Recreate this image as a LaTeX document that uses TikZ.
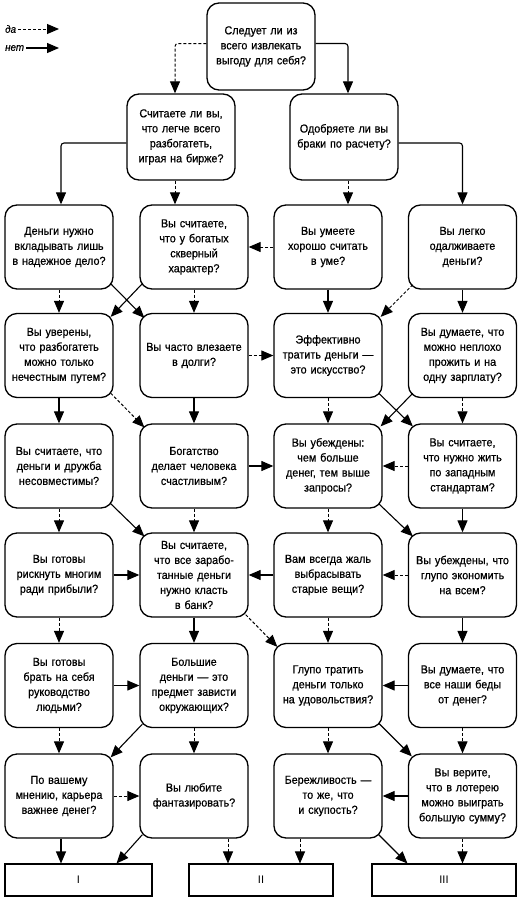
\documentclass[tikz,border=0pt]{standalone}
\usepackage{fontspec}
\setmainfont{Liberation Sans}[FakeStretch=0.93,FakeBold=0.6]
\newfontfamily\resfont{Liberation Sans}
\usetikzlibrary{arrows.meta,calc}
\begin{document}
\begin{tikzpicture}[x=1pt,y=-1pt,
 q/.style={draw, line width=1.3pt, rounded corners=12pt, minimum width=108pt, minimum height=84pt, text width=106pt, align=center, font=\fontsize{11.6}{15}\selectfont, inner sep=1pt},
 res/.style={draw, line width=1.1pt, minimum height=32pt, font=\resfont\fontsize{11}{13}\selectfont, inner sep=0pt},
 tip/.style={-{Triangle[length=12pt,width=10pt]}},
 yes/.style={tip, line width=1pt, dash pattern=on 3pt off 2pt},
 no/.style={tip, line width=1.1pt},
 lg/.style={font=\itshape\fontsize{10.5}{12}\selectfont, anchor=west, inner sep=2pt},
]
\useasboundingbox (0,0) rectangle (532,900);

% legend
\node[lg] (lyes) at (3,29) {да};
\node[lg] (lno) at (3,48) {нет};
\coordinate (lyesend) at (59,29);
\coordinate (lnoend) at (59,48);
\draw[yes] (lyes.east) -- (lyesend);
\draw[no] (lno.east) -- (lnoend);

% top rows
\node[q, minimum height=87pt] (q1) at (261,46.5) {Следует ли из\\всего извлекать\\выгоду для себя?};
\node[q, minimum height=86pt] (q2L) at (181,137) {Считаете ли вы,\\что легче всего\\разбогатеть,\\играя на бирже?};
\node[q, minimum height=86pt] (q2R) at (344,137) {Одобряете ли вы\\браки по расчету?};

% row 3
\node[q] (a1) at (59,247) {Деньги нужно\\вкладывать лишь\\в надежное дело?};
\node[q] (a2) at (194,247) {Вы считаете,\\что у богатых\\скверный\\характер?};
\node[q] (a3) at (328,247) {Вы умеете\\хорошо считать\\в уме?};
\node[q] (a4) at (462.5,247) {Вы легко\\одалживаете\\деньги?};
% row 4
\node[q] (b1) at (59,355.5) {Вы уверены,\\что разбогатеть\\можно только\\нечестным путем?};
\node[q] (b2) at (194,355.5) {Вы часто влезаете\\в долги?};
\node[q] (b3) at (328,355.5) {Эффективно\\тратить деньги —\\это искусство?};
\node[q] (b4) at (462.5,355.5) {Вы думаете, что\\можно неплохо\\прожить и на\\одну зарплату?};
% row 5
\node[q] (c1) at (59,466) {Вы считаете, что\\деньги и дружба\\несовместимы?};
\node[q] (c2) at (194,466) {Богатство\\делает человека\\счастливым?};
\node[q] (c3) at (328,466) {Вы убеждены:\\чем больше\\денег, тем выше\\запросы?};
\node[q] (c4) at (462.5,466) {Вы считаете,\\что нужно жить\\по западным\\стандартам?};
% row 6
\node[q] (d1) at (59,575) {Вы готовы\\рискнуть многим\\ради прибыли?};
\node[q] (d2) at (194,575) {Вы считаете,\\что все зарабо-\\танные деньги\\нужно класть\\в банк?};
\node[q] (d3) at (328,575) {Вам всегда жаль\\выбрасывать\\старые вещи?};
\node[q] (d4) at (462.5,575) {Вы убеждены, что\\глупо экономить\\на всем?};
% row 7
\node[q] (e1) at (59,685.5) {Вы готовы\\брать на себя\\руководство\\людьми?};
\node[q] (e2) at (194,685.5) {Большие\\деньги — это\\предмет зависти\\окружающих?};
\node[q] (e3) at (328,685.5) {Глупо тратить\\деньги только\\на удовольствия?};
\node[q] (e4) at (462.5,685.5) {Вы думаете, что\\все наши беды\\от денег?};
% row 8
\node[q] (f1) at (59,796) {По вашему\\мнению, карьера\\важнее денег?};
\node[q] (f2) at (194,796) {Вы любите\\фантазировать?};
\node[q] (f3) at (328,796) {Бережливость —\\то же, что\\и скупость?};
\node[q] (f4) at (462.5,796) {Вы верите,\\что в лотерею\\можно выиграть\\большую сумму?};
% results
\node[res, minimum width=147pt] (rI) at (78.5,880) {I};
\node[res, minimum width=144pt] (rII) at (261,880) {II};
\node[res, minimum width=144pt] (rIII) at (444,880) {III};

% top connectors
\draw[yes, rounded corners=3pt] ($(q1.west)+(0,-3)$) -| ($(q2L.north)+(-6,0)$);
\draw[no, rounded corners=3pt] ($(q1.east)+(0,-3)$) -| ($(q2R.north)+(4,0)$);
\draw[no, rounded corners=3pt] ($(q2L.west)+(0,6)$) -| ($(a1.north)+(2,0)$);
\draw[yes] ($(q2L.south)+(-6,0)$) -- ($(q2L.south |- a2.north)+(-6,0)$);
\draw[yes] ($(q2R.south)+(4,0)$) -- ($(q2R.south |- a3.north)+(4,0)$);
\draw[no, rounded corners=3pt] ($(q2R.east)+(0,6)$) -| (a4.north);

% row 3 -> row 4
\draw[yes] (a3.west) -- (a2.east);
\draw[yes] (a1.south) -- (b1.north);
\draw[no] ([shift={(-3,-6)}]a1.south east) -- ([shift={(5,5)}]b2.north west);
\draw[no] ([shift={(3,-6)}]a2.south west) -- ([shift={(-3,4)}]b1.north east);
\draw[yes] (a2.south) -- (b2.north);
\draw[no] (a3.south) -- (b3.north);
\draw[yes] ([shift={(5,-5)}]a4.south west) -- ([shift={(-2,4)}]b3.north east);
\draw[no] (a4.south) -- (b4.north);
\draw[yes] (b2.east) -- (b3.west);

% row 4 -> row 5
\draw[no] (b1.south) -- (c1.north);
\draw[yes] ([shift={(-3,-5)}]b1.south east) -- ([shift={(5,4)}]c2.north west);
\draw[no] (b2.south) -- (c2.north);
\draw[yes] (b3.south) -- (c3.north);
\draw[no] ([shift={(-4,-5)}]b3.south east) -- ([shift={(5,3)}]c4.north west);
\draw[no] ([shift={(5,-5)}]b4.south west) -- ([shift={(-2,3)}]c3.north east);
\draw[yes] (b4.south) -- (c4.north);
\draw[no] (c2.east) -- (c3.west);
\draw[yes] (c4.west) -- (c3.east);

% row 5 -> row 6
\draw[yes] (c1.south) -- (d1.north);
\draw[no] ([shift={(-3,-5)}]c1.south east) -- ([shift={(5,4)}]d2.north west);
\draw[yes] (c2.south) -- (d2.north);
\draw[yes] (c3.south) -- (d3.north);
\draw[no] ([shift={(-4,-5)}]c3.south east) -- ([shift={(5,4)}]d4.north west);
\draw[no] (c4.south) -- (d4.north);
\draw[no] (d1.east) -- (d2.west);
\draw[no] (d3.west) -- (d2.east);
\draw[yes] (d4.west) -- (d3.east);

% row 6 -> row 7
\draw[yes] (d1.south) -- (e1.north);
\draw[no] (d2.south) -- (e2.north);
\draw[yes] ([shift={(-3,-3)}]d2.south east) -- ([shift={(4,4)}]e3.north west);
\draw[yes] (d3.south) -- (e3.north);
\draw[no] (d4.south) -- (e4.north);
\draw[no] (e1.east) -- (e2.west);
\draw[no] (e4.west) -- (e3.east);

% row 7 -> row 8
\draw[yes] (e1.south) -- (f1.north);
\draw[no] ([shift={(3,-4)}]e2.south west) -- ([shift={(-3,4)}]f1.north east);
\draw[yes] (e2.south) -- (f2.north);
\draw[yes] (e3.south) -- (f3.north);
\draw[no] ([shift={(-4,-5)}]e3.south east) -- ([shift={(4,3)}]f4.north west);
\draw[yes] (e4.south) -- (f4.north);
\draw[yes] (f1.east) -- (f2.west);
\draw[no] (f4.west) -- (f3.east);

% row 8 -> results
\draw[no] ($(f1.south)+(2,0)$) -- ($(f1.south |- rI.north)+(2,0)$);
\draw[no] ([shift={(3,-4)}]f2.south west) -- ([shift={(-36,0)}]rI.north east);
\draw[yes] ($(f2.south)+(34,0)$) -- ($(f2.south |- rII.north)+(34,0)$);
\draw[yes] ($(f3.south)+(-28,0)$) -- ($(f3.south |- rII.north)+(-28,0)$);
\draw[no] ([shift={(-4,-4)}]f3.south east) -- ([shift={(36,0)}]rIII.north west);
\draw[yes] (f4.south) -- (f4.south |- rIII.north);
\end{tikzpicture}
\end{document}
